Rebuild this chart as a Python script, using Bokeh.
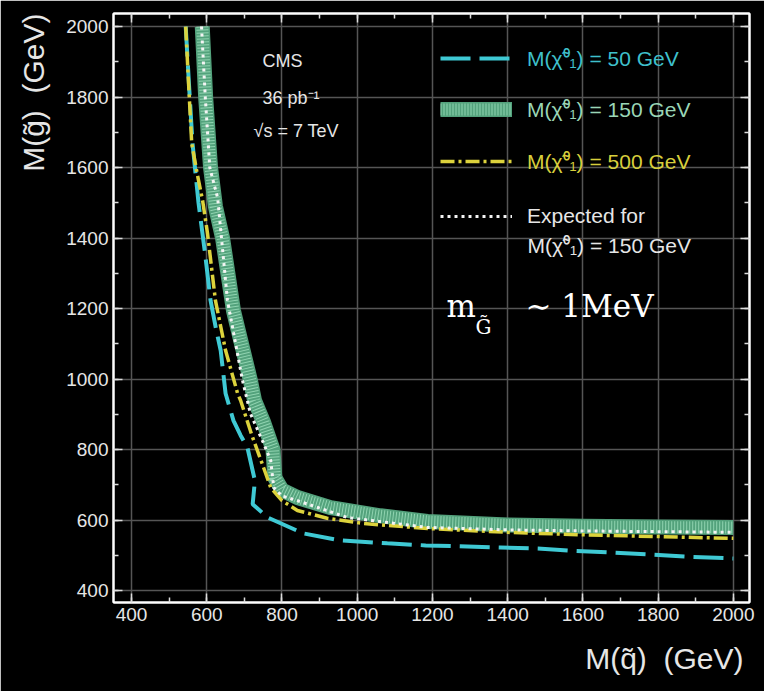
import math
from bokeh.plotting import figure
from bokeh.models import (Range1d, SingleIntervalTicker, LinearAxis, Label,
                          Legend, LegendItem, Title)
from bokeh.core.properties import value
from bokeh.embed import file_html
from bokeh.resources import INLINE

# ---- data ----
x_ticks = [400, 600, 800, 1000, 1200, 1400, 1600, 1800, 2000]
y_ticks = [400, 600, 800, 1000, 1200, 1400, 1600, 1800, 2000]

# M(chi) = 50 GeV (cyan dashed)
cyan_x = [544, 553, 562, 578, 595, 610, 625, 637, 650, 671, 690, 708, 728, 722,
          762, 857, 956, 1080, 1182, 1381, 1480, 1568, 1674, 1780, 1879, 2000]
cyan_y = [2000, 1830, 1670, 1500, 1360, 1223, 1140, 1081, 959, 882, 840, 806, 712, 645,
          607, 562, 542, 534, 528, 522, 519, 513, 508, 502, 496, 491]

# M(chi) = 150 GeV (green band, observed)
green_x = [588, 597, 610, 623, 642, 671, 716, 727, 750, 776, 781, 800, 841, 929,
           1062, 1187, 1400, 1600, 1800, 2000]
green_y = [2000, 1800, 1600, 1490, 1400, 1194, 996, 939, 880, 800, 720, 685, 664, 635,
           612, 596, 586, 582, 580, 579]

# M(chi) = 500 GeV (yellow dash-dot)
yellow_x = [544, 552, 560, 575, 589, 602, 623, 650, 682, 690, 720, 751, 770, 800,
            841, 920, 1017, 1187, 1400, 1600, 1800, 2000]
yellow_y = [2000, 1830, 1668, 1580, 1506, 1413, 1223, 1081, 959, 939, 840, 749, 692, 655,
            627, 605, 590, 576, 565, 558, 553, 548]

# Expected for M(chi) = 150 GeV (white dotted)
exp_x = [586, 596, 608, 629, 655, 695, 716, 750, 770, 778, 800, 841, 974, 1187,
         1400, 1600, 1800, 2000]
exp_y = [2000, 1800, 1600, 1513, 1223, 996, 902, 820, 769, 692, 668, 655, 607, 579,
         572, 569, 567, 565]

FONT = "Liberation Sans"
TXT = "#e6e6e6"
NB = "\u00a0"

p = figure(width=764, height=691, x_range=Range1d(352, 2043), y_range=Range1d(366, 2037),
           output_backend="svg", toolbar_location=None,
           background_fill_color="black", border_fill_color="black",
           min_border_left=113, min_border_right=15, min_border_top=13,
           min_border_bottom=89, outline_line_color="white", outline_line_width=2)


def style_axis(ax, labels=True):
    ax.axis_line_color = "white"
    ax.axis_line_width = 2
    ax.major_tick_line_color = "#dddddd"
    ax.minor_tick_line_color = "#dddddd"
    ax.major_tick_in = 9
    ax.major_tick_out = 0
    ax.minor_tick_in = 5
    ax.minor_tick_out = 0
    ax.major_tick_line_width = 1.5
    ax.minor_tick_line_width = 1.5
    if labels:
        ax.major_label_text_font = FONT
        ax.major_label_text_font_size = "19px"
        ax.major_label_text_color = TXT
        ax.major_label_standoff = 5
    else:
        ax.major_label_overrides = {t: "" for t in x_ticks}
        ax.major_label_text_color = None
        ax.major_label_standoff = 0


xt = SingleIntervalTicker(interval=200, num_minor_ticks=2)
yt = SingleIntervalTicker(interval=200, num_minor_ticks=2)
p.xaxis.ticker = xt
p.yaxis.ticker = yt
style_axis(p.xaxis[0])
style_axis(p.yaxis[0])
p.yaxis.major_label_orientation = "horizontal"

top_ax = LinearAxis(ticker=SingleIntervalTicker(interval=200, num_minor_ticks=2))
right_ax = LinearAxis(ticker=SingleIntervalTicker(interval=200, num_minor_ticks=2))
style_axis(top_ax, labels=False)
style_axis(right_ax, labels=False)
p.add_layout(top_ax, "above")
p.add_layout(right_ax, "right")

p.xgrid.ticker = xt
p.ygrid.ticker = yt
for g in (p.xgrid, p.ygrid):
    g.grid_line_color = "#555555"
    g.grid_line_width = 1.5

# ---- curves ----
r_cyan = p.line(cyan_x, cyan_y, line_color="#3fc9d4", line_width=4, line_dash="30 9")
r_gbase = p.line(green_x, green_y, line_color="#53a27c", line_width=15,
                 line_join="round", line_cap="butt")
r_gtex = p.line(green_x, green_y, line_color="#a9e8c6", line_width=12,
                line_dash="1 2", line_alpha=0.7, line_join="round")
r_yel = p.line(yellow_x, yellow_y, line_color="#dcd23c", line_width=3.5,
               line_dash="14 4 3 4")
r_exp = p.line(exp_x, exp_y, line_color="#f4f4f4", line_width=3, line_dash="3 4")


def add_legend(label, renderers, color, y):
    lg = Legend(items=[LegendItem(label=value(label), renderers=renderers)],
                location=(327, y), padding=0, margin=0, spacing=0,
                glyph_width=72, glyph_height=20, label_height=20,
                label_standoff=15, label_text_font=FONT, label_text_font_size="21px",
                label_text_color=color, background_fill_alpha=0,
                border_line_alpha=0)
    p.add_layout(lg, "center")


add_legend("M(χ̃⁰₁) = 50 GeV", [r_cyan], "#3fc0cc", 530)
add_legend("M(χ̃⁰₁) = 150 GeV", [r_gbase, r_gtex], "#9ad6b6", 479)
add_legend("M(χ̃⁰₁) = 500 GeV", [r_yel], "#d8cf3c", 427)
add_legend("Expected for", [r_exp], TXT, 374)
p.add_layout(Label(x=414, y=357, x_units="screen", y_units="screen",
                   text="M(χ̃⁰₁) = 150 GeV", text_font=FONT, text_font_size="21px",
                   text_color=TXT, text_baseline="middle"))

# ---- CMS texts ----
for txt, sx, sy in [("CMS", 149, 542), ("36 pb⁻¹", 149, 505), ("√s = 7 TeV", 140, 472)]:
    p.add_layout(Label(x=sx, y=sy, x_units="screen", y_units="screen", text=txt,
                       text_font=FONT, text_font_size="18px", text_color=TXT,
                       text_baseline="middle"))

# m_G ~ 1MeV
SER = "DejaVu Serif"
p.add_layout(Label(x=333, y=297, x_units="screen", y_units="screen", text="m",
                   text_font=SER, text_font_size="31px", text_color="white",
                   text_baseline="alphabetic"))
p.add_layout(Label(x=362, y=276, x_units="screen", y_units="screen", text="G̃",
                   text_font=SER, text_font_size="20px", text_color="white",
                   text_baseline="alphabetic"))
p.add_layout(Label(x=412, y=297, x_units="screen", y_units="screen", text="∼ 1MeV",
                   text_font=SER, text_font_size="31px", text_color="white",
                   text_baseline="alphabetic"))

# axis titles (ROOT style: right/top aligned)
p.add_layout(Title(text="M(q̃)" + NB + NB + "(GeV)", align="right", text_font=FONT,
                   text_font_size="30px", text_color=TXT, text_font_style="normal",
                   standoff=32, offset=6), "below")
p.add_layout(Title(text="M(g̃)" + NB + NB + "(GeV)", align="right", text_font=FONT,
                   text_font_size="30px", text_color=TXT, text_font_style="normal",
                   standoff=27), "left")

open("out.html", "w").write(file_html(p, INLINE))
